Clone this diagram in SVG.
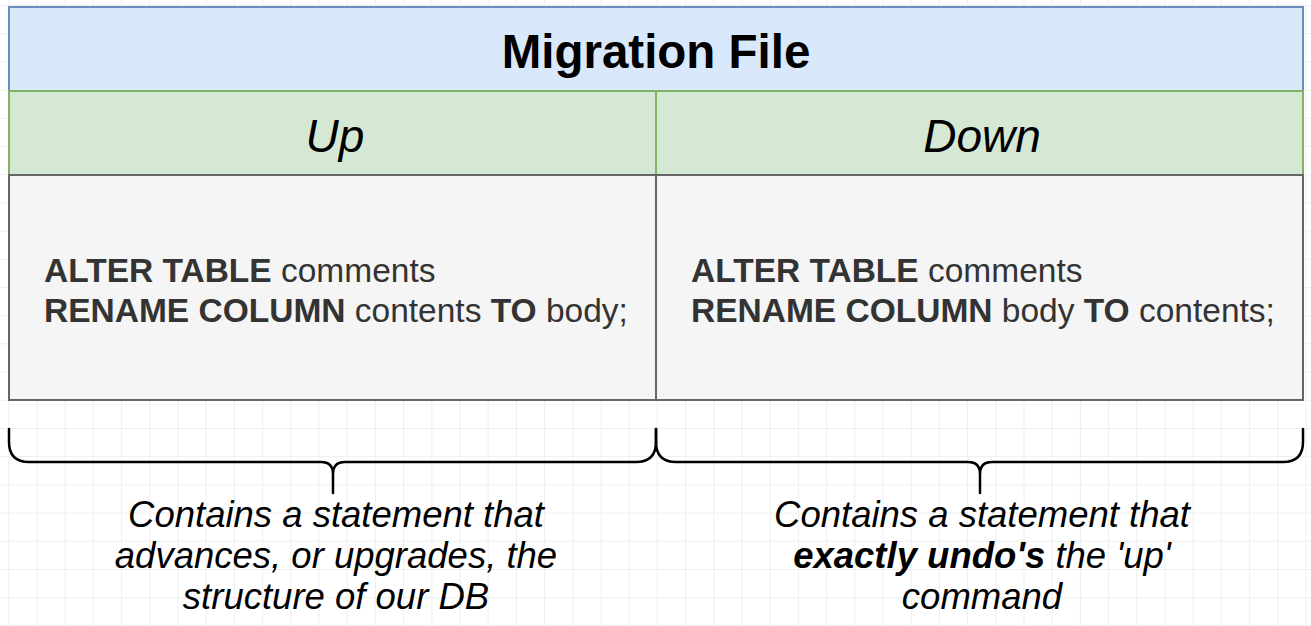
<svg xmlns="http://www.w3.org/2000/svg" width="1311" height="626" viewBox="0 0 1311 626">
  <defs>
    <pattern id="grid" x="8.3" y="5" width="28.2" height="28.2" patternUnits="userSpaceOnUse">
      <path d="M0 0.5 H28.2 M0.5 0 V28.2" fill="none" stroke="#eeeeee" stroke-width="1"/>
    </pattern>
    <style>
      .head { fill: #dae8fc; stroke: #6c8ebf; stroke-width: 2; }
      .sub { fill: #d5e8d4; stroke: #82b366; stroke-width: 2; }
      .body { fill: #f5f5f5; stroke: #666666; stroke-width: 2; }
      .brace { fill: none; stroke: #000000; stroke-width: 2.5; stroke-linecap: round; stroke-linejoin: round; }
      text { font-family: "Liberation Sans", Arial, Helvetica, sans-serif; }
      .title { font-size: 47.5px; font-weight: bold; fill: #000000; text-anchor: middle; }
      .col { font-size: 46px; font-style: italic; fill: #000000; text-anchor: middle; }
      .sql { font-size: 33.5px; fill: #333333; }
      .sql .k { font-weight: bold; }
      .note { font-size: 36.5px; font-style: italic; fill: #000000; text-anchor: middle; }
      .note .b { font-weight: bold; }
    </style>
  </defs>

  <!-- background grid -->
  <rect x="0" y="0" width="1311" height="626" fill="#ffffff"/>
  <rect x="0" y="0" width="1311" height="626" fill="url(#grid)"/>

  <!-- header: migration file -->
  <g id="migration-file">
    <rect class="head" x="9" y="7" width="1294" height="84"/>
    <text class="title" x="656" y="68">Migration File</text>
  </g>

  <!-- up column -->
  <g id="up">
    <rect class="sub" x="9" y="91" width="647" height="84"/>
    <text class="col" x="335" y="152">Up</text>
  </g>
  <g id="up-body">
    <rect class="body" x="9" y="175" width="647" height="225"/>
    <text class="sql" x="44" y="282"><tspan class="k">ALTER TABLE</tspan> comments</text>
    <text class="sql" x="44" y="322"><tspan class="k">RENAME COLUMN</tspan> contents <tspan class="k">TO</tspan> body;</text>
  </g>

  <!-- down column -->
  <g id="down">
    <rect class="sub" x="656" y="91" width="647" height="84"/>
    <text class="col" x="982" y="152">Down</text>
  </g>
  <g id="down-body">
    <rect class="body" x="656" y="175" width="647" height="225"/>
    <text class="sql" x="691" y="282"><tspan class="k">ALTER TABLE</tspan> comments</text>
    <text class="sql" x="691" y="322"><tspan class="k">RENAME COLUMN</tspan> body <tspan class="k">TO</tspan> contents;</text>
  </g>

  <!-- curly braces under each column -->
  <g id="connectors">
    <path class="brace" d="M9 429 V442 Q9 462 29 462 H321 Q333 462 333 474 Q333 462 345 462 H636 Q656 462 656 442 V429 M333 474 V493"/>
    <path class="brace" d="M656 429 V442 Q656 462 676 462 H968 Q980 462 980 474 Q980 462 992 462 H1283 Q1303 462 1303 442 V429 M980 474 V493"/>
  </g>

  <!-- descriptions -->
  <g id="up-note">
    <text class="note" x="336" y="527">Contains a statement that</text>
    <text class="note" x="336" y="568">advances, or upgrades, the</text>
    <text class="note" x="336" y="609">structure of our DB</text>
  </g>
  <g id="down-note">
    <text class="note" x="982" y="527">Contains a statement that</text>
    <text class="note" x="982" y="568"><tspan class="b">exactly undo's</tspan> the 'up'</text>
    <text class="note" x="982" y="609">command</text>
  </g>
</svg>
